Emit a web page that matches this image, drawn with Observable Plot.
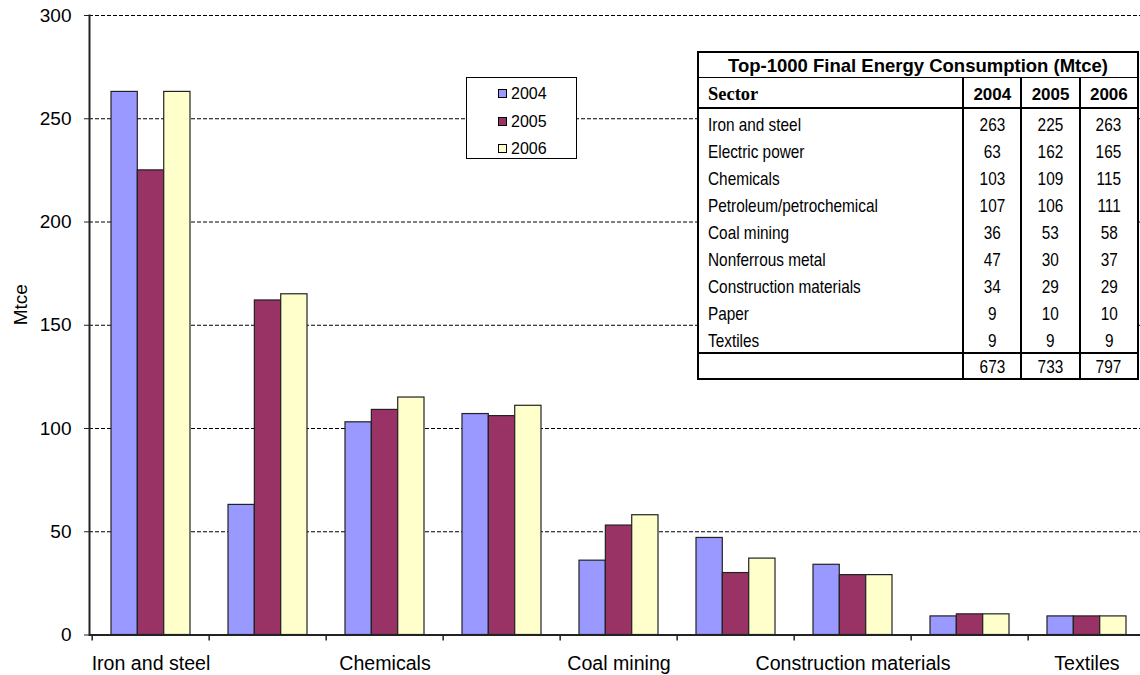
<!DOCTYPE html>
<html>
<head>
<meta charset="utf-8">
<script src="https://cdn.jsdelivr.net/npm/d3@7"></script>
<script src="https://cdn.jsdelivr.net/npm/@observablehq/plot@0.6"></script>
<style>
  html, body { margin: 0; padding: 0; background: #fff; overflow: hidden; }
  #wrap { position: relative; width: 1140px; height: 675px; overflow: hidden; }
  #chart svg { display: block; }
  #legend {
    position: absolute; left: 466px; top: 77px; width: 109px; height: 80px;
    background: #fff; border: 1px solid #000;
    font-family: "Liberation Sans", Arial, sans-serif; font-size: 16px; color: #000;
  }
  #legend .item { position: absolute; left: 31px; height: 18px; line-height: 18px; white-space: nowrap; }
  #legend .sw { display: inline-block; width: 7px; height: 7px; border: 1px solid #000; margin-right: 4px; vertical-align: 1px; }
  #tableBox { position: absolute; left: 697px; top: 51px; background: #fff; }
  #tableBox table {
    border-collapse: collapse; table-layout: fixed; width: 442px;
    border: 2px solid #000; background: #fff; color: #000;
  }
  #tableBox td { padding: 0; white-space: nowrap; overflow: hidden; line-height: 1; }
  #tableBox .title td {
    height: 21px; text-align: center; font: bold 18.5px "Liberation Sans", Arial, sans-serif;
    border-bottom: 1px solid #000; padding-top: 2px;
  }
  #tableBox .head td {
    height: 25px; padding-top: 4px; border-bottom: 2px solid #000;
    font: bold 17px "Liberation Sans", Arial, sans-serif; text-align: center;
  }
  #tableBox .head td.sector { text-align: left; padding-left: 9px; font: bold 18.5px "Liberation Serif", "Times New Roman", serif; }
  #tableBox .row td {
    height: 21.4px; padding-top: 5px;
    font: 18.5px "Liberation Sans", Arial, sans-serif; text-align: center;
  }
  #tableBox .row td.sector { text-align: left; padding-left: 9px; }
  #tableBox .total td {
    height: 23px; padding-top: 1px; border-top: 2px solid #000;
    font: 18.5px "Liberation Sans", Arial, sans-serif; text-align: center;
  }
  #tableBox .narrow { display: inline-block; transform: scaleX(0.83); }
  #tableBox .sector .narrow { transform-origin: left center; }
  #tableBox .num .narrow { transform-origin: center center; }
  #tableBox td.num { border-left: 2px solid #000; }
</style>
</head>
<body>
<div id="wrap">
  <div id="chart"></div>
  <div id="legend"></div>
  <div id="tableBox"></div>
</div>
<script>
// Top-1000 enterprises: final energy consumption by sector (Mtce)
const sectors = [
  "Iron and steel", "Electric power", "Chemicals", "Petroleum/petrochemical",
  "Coal mining", "Nonferrous metal", "Construction materials", "Paper", "Textiles"
];
const years = ["2004", "2005", "2006"];
const values2004 = [263, 63, 103, 107, 36, 47, 34, 9, 9];
const values2005 = [225, 162, 109, 106, 53, 30, 29, 10, 9];
const values2006 = [263, 165, 115, 111, 58, 37, 29, 10, 9];
const totals = [673, 733, 797];
const yTicks = [0, 50, 100, 150, 200, 250, 300];
const yearColors = ["#9999FF", "#993366", "#FFFFCC"];
const tableTitle = "Top-1000 Final Energy Consumption (Mtce)";
const sectorHeader = "Sector";
const yLabel = "Mtce";

const seriesByYear = [values2004, values2005, values2006];
const rows = sectors.flatMap((sector, i) =>
  years.map((year, j) => ({sector, year, value: seriesByYear[j][i]}))
);

// layout: the plot area runs slightly past the right edge of the page
const width = 1148, height = 675;
const marginLeft = 89, marginRight = 0, marginTop = 15, marginBottom = 40.5;
const paddingInner = 0.328, paddingOuter = paddingInner / 2;
const step = (width - marginLeft - marginRight) / sectors.length;
const bandwidth = step * (1 - paddingInner);
const third = bandwidth / years.length;

const barMarks = years.map((year, j) =>
  Plot.barY(rows.filter(d => d.year === year), {
    x: "sector",
    y: "value",
    fill: "year",
    stroke: "#222",
    strokeWidth: 1.2,
    insetLeft: j * third,
    insetRight: (years.length - 1 - j) * third
  })
);

const chart = Plot.plot({
  width, height, marginLeft, marginRight, marginTop, marginBottom,
  style: {fontFamily: "'Liberation Sans', Arial, sans-serif", fontSize: "19px", color: "#000", background: "#fff", overflow: "visible", maxWidth: "none"},
  x: {domain: sectors, paddingInner, paddingOuter},
  y: {domain: [0, 300]},
  color: {domain: years, range: yearColors},
  marks: [
    Plot.gridY(yTicks.filter(d => d > 0), {stroke: "#000", strokeOpacity: 1, strokeWidth: 1, strokeDasharray: "4,2"}),
    ...barMarks,
    Plot.ruleY([0], {stroke: "#222", strokeWidth: 2}),
    Plot.frame({anchor: "left", stroke: "#222", strokeWidth: 2}),
    Plot.axisY({ticks: yTicks, tickSize: 5, tickPadding: 13, fontSize: 19, label: null, stroke: "#222"}),
    Plot.text([yLabel], {frameAnchor: "left", rotate: -90, dx: -69, fontSize: 19}),
    // category boundary ticks
    Plot.axisX({tickSize: 6, tickFormat: () => "", dx: -step / 2, label: null, stroke: "#222", strokeWidth: 1.5}),
    // every other category name
    Plot.axisX({ticks: sectors.filter((_, i) => i % 2 === 0), tickSize: 0, tickPadding: 21, fontSize: 19.6, label: null})
  ]
});
chart.style.maxWidth = "none";
document.getElementById("chart").appendChild(chart);

// legend
const legend = document.getElementById("legend");
const legendTops = [7, 35, 62];
years.forEach((year, j) => {
  const item = document.createElement("div");
  item.className = "item";
  item.style.top = legendTops[j] + "px";
  const sw = document.createElement("span");
  sw.className = "sw";
  sw.style.background = yearColors[j];
  item.appendChild(sw);
  item.appendChild(document.createTextNode(year));
  legend.appendChild(item);
});

// data table
const table = document.createElement("table");
const colgroup = document.createElement("colgroup");
[264, 58, 58, 58].forEach(w => {
  const c = document.createElement("col");
  c.style.width = w + "px";
  colgroup.appendChild(c);
});
table.appendChild(colgroup);

function addRow(cls, cells, narrow) {
  const tr = document.createElement("tr");
  tr.className = cls;
  cells.forEach(([text, cellCls, span]) => {
    const td = document.createElement("td");
    if (cellCls) td.className = cellCls;
    if (span) td.colSpan = span;
    if (narrow) {
      const s = document.createElement("span");
      s.className = "narrow";
      s.textContent = text;
      td.appendChild(s);
    } else {
      td.textContent = text;
    }
    tr.appendChild(td);
  });
  table.appendChild(tr);
}
addRow("title", [[tableTitle, "", 4]], false);
addRow("head", [[sectorHeader, "sector"], ...years.map(y => [y, "num"])], false);
sectors.forEach((s, i) => addRow("row", [[s, "sector"], ...seriesByYear.map(v => [String(v[i]), "num"])], true));
addRow("total", [["", "sector"], ...totals.map(t => [String(t), "num"])], true);
document.getElementById("tableBox").appendChild(table);
</script>
</body>
</html>
